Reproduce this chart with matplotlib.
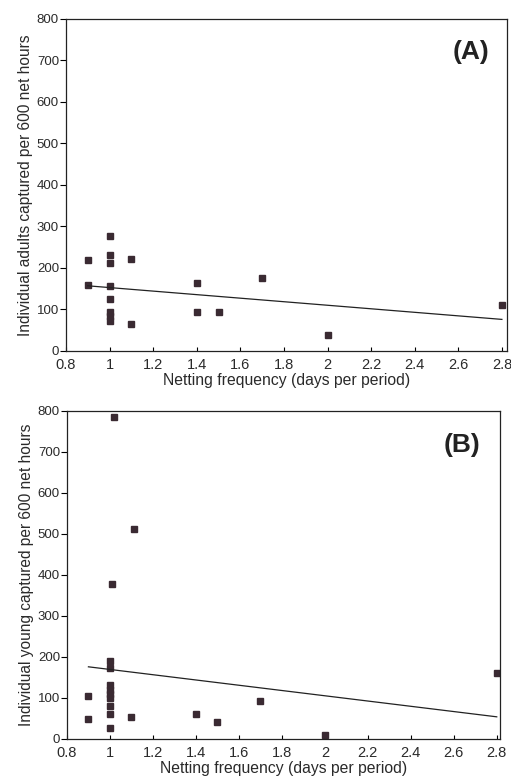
import numpy as np
import matplotlib.pyplot as plt

plt.rcParams['font.family'] = ['Liberation Sans', 'DejaVu Sans']

# panel A: adults
adult_x = [0.9, 0.9, 1.0, 1.0, 1.0, 1.0, 1.0, 1.0, 1.0, 1.0,
           1.1, 1.1, 1.4, 1.4, 1.5, 1.7, 2.0, 2.8]
adult_y = [220, 160, 278, 232, 211, 157, 125, 95, 84, 72,
           222, 64, 163, 94, 94, 177, 39, 110]
adult_fit = (195.4, -42.6)   # intercept, slope

# panel B: young
young_x = [0.9, 0.9, 1.02, 1.01, 1.0, 1.0, 1.0, 1.0, 1.0, 1.0,
           1.0, 1.0, 1.0, 1.11, 1.1, 1.4, 1.5, 1.7, 2.0, 2.8]
young_y = [104, 49, 786, 378, 191, 174, 131, 120, 110, 100,
           80, 62, 28, 511, 54, 60, 42, 93, 9, 162]
young_fit = (233.8, -64.2)

xticks = [0.8, 1, 1.2, 1.4, 1.6, 1.8, 2, 2.2, 2.4, 2.6, 2.8]
xticklabels = ['0.8', '1', '1.2', '1.4', '1.6', '1.8', '2', '2.2', '2.4', '2.6', '2.8']
yticks = [0, 100, 200, 300, 400, 500, 600, 700, 800]

fig = plt.figure(figsize=(5.11, 7.81), dpi=100)
ax_a = fig.add_axes([0.129, 0.5506, 0.863, 0.4251])
ax_b = fig.add_axes([0.131, 0.0538, 0.847, 0.42])

dark = '#3a2a32'
txt = '#2a2a2a'


def draw(ax, xs, ys, fit, ylabel, tag, xmax, tag_xy):
    ax.plot(xs, ys, ls='none', marker='s', ms=4.6, mfc=dark, mec=dark)
    fx = np.array([0.9, 2.8])
    ax.plot(fx, fit[0] + fit[1] * fx, color='#222222', lw=0.9)
    ax.set_xlim(0.8, xmax)
    ax.set_ylim(0, 800)
    ax.set_xticks(xticks)
    ax.set_xticklabels(xticklabels)
    ax.set_yticks(yticks)
    ax.tick_params(axis='y', direction='out', length=4, width=0.8,
                   labelsize=9.5, labelcolor=txt, pad=1)
    ax.tick_params(axis='x', direction='in', length=3, width=0.8,
                   labelsize=10.5, labelcolor=txt, pad=5)
    for s in ax.spines.values():
        s.set_linewidth(0.9)
        s.set_color('#222222')
    ax.set_xlabel('Netting frequency (days per period)', fontsize=11.3,
                  color=txt, labelpad=1)
    ax.set_ylabel(ylabel, fontsize=11.2, color=txt, labelpad=3)
    ax.text(tag_xy[0], tag_xy[1], tag, fontsize=19, fontweight='bold',
            color='#222222', ha='center', va='center')


draw(ax_a, adult_x, adult_y, adult_fit,
     'Individual adults captured per 600 net hours', '(A)', 2.823, (2.66, 720))
draw(ax_b, young_x, young_y, young_fit,
     'Individual young captured per 600 net hours', '(B)', 2.814, (2.64, 717))

fig.savefig('out.png', dpi=100)
